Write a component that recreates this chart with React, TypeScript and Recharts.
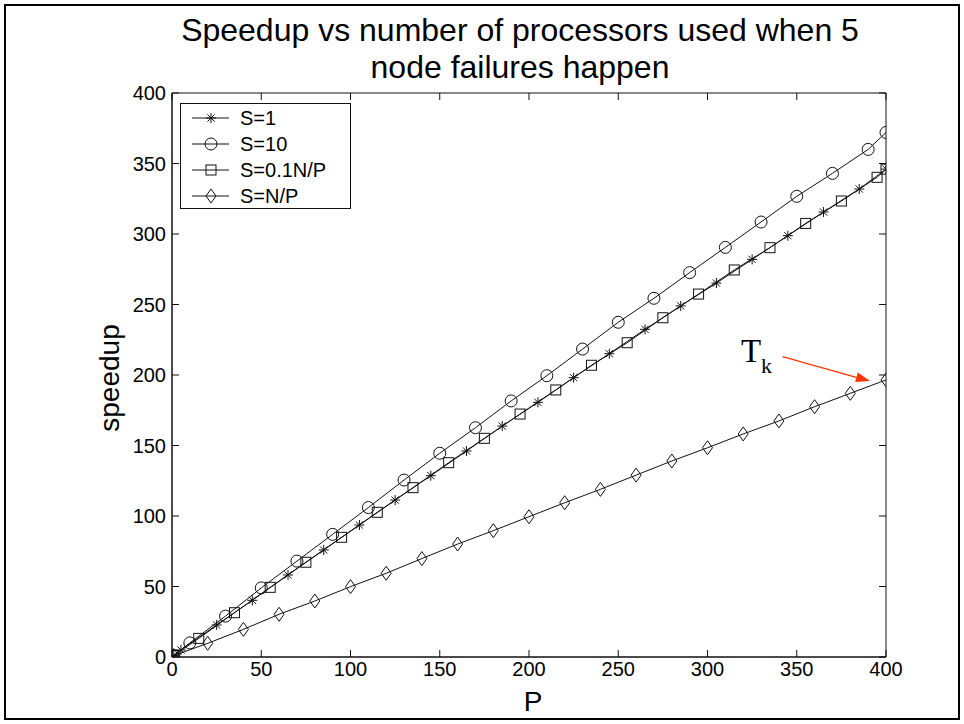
import React from 'react';
import { LineChart, Line, XAxis, YAxis, ReferenceLine, ReferenceDot, ReferenceArea } from 'recharts';

const P_TICKS = [0, 50, 100, 150, 200, 250, 300, 350, 400];
const SPEEDUP_TICKS = [0, 50, 100, 150, 200, 250, 300, 350, 400];

// S=1 (stars)
const S1_P = [1, 5, 25, 45, 65, 85, 105, 125, 145, 165, 185, 205, 225, 245, 265, 285, 305, 325, 345, 365, 385, 400];
const S1_SPEEDUP = [1, 5, 22.7, 40.2, 58.2, 75.9, 93.6, 111.3, 128.6, 146.1, 163.8, 180.6, 198.1, 215.1, 232.4, 249, 265.2, 282, 298.8, 315.6, 331.9, 346];

// S=10 (circles)
const S10_P = [1, 10, 30, 50, 70, 90, 110, 130, 150, 170, 190, 210, 230, 250, 270, 290, 310, 330, 350, 370, 390, 400];
const S10_SPEEDUP = [1, 10, 29, 49, 68, 87, 106, 125.5, 144.5, 162.6, 181.6, 199.5, 218.4, 237.4, 254.4, 272.6, 290.5, 308.5, 326.7, 343, 360, 372];

// S=0.1N/P (squares)
const S01_P = [1, 15, 35, 55, 75, 95, 115, 135, 155, 175, 195, 215, 235, 255, 275, 295, 315, 335, 355, 375, 395, 400];
const S01_SPEEDUP = [1, 13.2, 31.4, 49.4, 67.2, 84.9, 102.6, 120.1, 137.8, 155.1, 172.3, 189.4, 206.9, 222.9, 240.6, 257.4, 274.5, 290.3, 307.5, 323.4, 340.2, 346];

// S=N/P (diamonds)
const SNP_P = [1, 20, 40, 60, 80, 100, 120, 140, 160, 180, 200, 220, 240, 260, 280, 300, 320, 340, 360, 380, 400];
const SNP_SPEEDUP = [1, 9.7, 19.6, 30.3, 39.7, 49.9, 59.4, 69.8, 80.1, 89.6, 99.5, 109.4, 118.9, 129, 139, 148.4, 158.2, 167.4, 177.5, 187, 196.5];

const TK_LABEL = { p: 326, speedup: 214 };
const TK_ARROW = [
  { p: 342, speedup: 213 },
  { p: 391, speedup: 195.7 },
];

const zip = (ps: number[], vs: number[]) => ps.map((p, i) => ({ p, speedup: vs[i] }));

const SERIES = [
  { name: 'S=1', marker: 'star', data: zip(S1_P, S1_SPEEDUP) },
  { name: 'S=10', marker: 'circle', data: zip(S10_P, S10_SPEEDUP) },
  { name: 'S=0.1N/P', marker: 'square', data: zip(S01_P, S01_SPEEDUP) },
  { name: 'S=N/P', marker: 'diamond', data: zip(SNP_P, SNP_SPEEDUP) },
];

const FONT = '"Liberation Sans", Arial, Helvetica, sans-serif';
const INK = '#111';
const TICK_LEN = 7;

function Marker({ kind, cx, cy }: { kind: string; cx: number; cy: number }) {
  const common = { stroke: INK, strokeWidth: 1, fill: 'none' };
  if (kind === 'circle') return <circle cx={cx} cy={cy} r={6} {...common} />;
  if (kind === 'square') return <rect x={cx - 5} y={cy - 5} width={10} height={10} {...common} />;
  if (kind === 'diamond')
    return <polygon points={`${cx},${cy - 7} ${cx + 5},${cy} ${cx},${cy + 7} ${cx - 5},${cy}`} {...common} />;
  const s = 5;
  const d = 3.6;
  return (
    <g {...common}>
      <line x1={cx - s} y1={cy} x2={cx + s} y2={cy} />
      <line x1={cx} y1={cy - s} x2={cx} y2={cy + s} />
      <line x1={cx - d} y1={cy - d} x2={cx + d} y2={cy + d} />
      <line x1={cx - d} y1={cy + d} x2={cx + d} y2={cy - d} />
    </g>
  );
}

function LegendBox() {
  return (
    <div
      style={{
        position: 'absolute',
        left: 180,
        top: 103,
        width: 171,
        height: 106,
        border: `1px solid ${INK}`,
        background: '#fff',
        boxSizing: 'border-box',
      }}
    >
      <svg width={169} height={104} style={{ display: 'block' }}>
        {SERIES.map((s, i) => {
          const y = 14 + i * 26;
          return (
            <g key={s.name}>
              <line x1={11} y1={y} x2={48} y2={y} stroke={INK} strokeWidth={1} />
              <Marker kind={s.marker} cx={30} cy={y} />
              <text x={59} y={y} dominantBaseline="central" fontSize={20} fontFamily={FONT} fill="#000">
                {s.name}
              </text>
            </g>
          );
        })}
      </svg>
    </div>
  );
}

// inward tick marks at both ends of a full-height / full-width reference line
function VTicks(props: any) {
  const { x1, y1, x2, y2 } = props;
  const top = Math.min(y1, y2);
  const bottom = Math.max(y1, y2);
  return (
    <g stroke={INK} strokeWidth={1}>
      <line x1={x1} y1={bottom} x2={x2} y2={bottom - TICK_LEN} />
      <line x1={x1} y1={top} x2={x2} y2={top + TICK_LEN} />
    </g>
  );
}

function HTicks(props: any) {
  const { x1, y1, x2, y2 } = props;
  const left = Math.min(x1, x2);
  const right = Math.max(x1, x2);
  return (
    <g stroke={INK} strokeWidth={1}>
      <line x1={left} y1={y1} x2={left + TICK_LEN} y2={y2} />
      <line x1={right} y1={y1} x2={right - TICK_LEN} y2={y2} />
    </g>
  );
}

function TkArrow(props: any) {
  const { x1, y1, x2, y2 } = props;
  const a = Math.atan2(y2 - y1, x2 - x1);
  const len = 14;
  const hw = 5;
  const bx = x2 - len * Math.cos(a);
  const by = y2 - len * Math.sin(a);
  const pts = `${x2},${y2} ${bx + hw * Math.sin(a)},${by - hw * Math.cos(a)} ${bx - hw * Math.sin(a)},${by + hw * Math.cos(a)}`;
  return (
    <g>
      <line x1={x1} y1={y1} x2={bx} y2={by} stroke="#ff3300" strokeWidth={1.2} />
      <polygon points={pts} fill="#ff3300" />
    </g>
  );
}

function TkLabel(props: any) {
  const { cx, cy } = props;
  return (
    <text x={cx - 13} y={cy + 7} fontFamily='"Liberation Serif", "Times New Roman", serif' fill="#000">
      <tspan fontSize={33}>T</tspan>
      <tspan fontSize={22} dy={11}>k</tspan>
    </text>
  );
}

function YTitle(props: any) {
  const vb = props.viewBox || { y: 93, height: 564 };
  const cy = vb.y + vb.height / 2 + 3;
  return (
    <text x={119} y={cy} transform={`rotate(-90 119 ${cy})`} textAnchor="middle" fontSize={28} fontFamily={FONT} fill="#000">
      speedup
    </text>
  );
}

function XTitle(props: any) {
  const vb = props.viewBox || { x: 172, width: 714 };
  return (
    <text x={vb.x + vb.width / 2 + 4} y={711} textAnchor="middle" fontSize={28} fontFamily={FONT} fill="#000">
      P
    </text>
  );
}

export default function App() {
  const tickStyle = { fontSize: 20, fill: '#000', fontFamily: FONT };
  return (
    <div style={{ position: 'absolute', left: 0, top: 0, width: 964, height: 724, background: '#fff', overflow: 'hidden' }}>
      <div
        style={{
          position: 'absolute',
          left: 4,
          top: 4,
          width: 956,
          height: 716,
          border: '2px solid #000',
          boxSizing: 'border-box',
        }}
      />
      <div
        style={{
          position: 'absolute',
          left: 120,
          top: 12,
          width: 800,
          textAlign: 'center',
          fontFamily: FONT,
          fontSize: 32,
          lineHeight: '37px',
          color: '#000',
        }}
      >
        Speedup vs number of processors used when 5
        <br />
        node failures happen
      </div>
      <div style={{ position: 'absolute', left: 0, top: 0 }}>
        <LineChart width={964} height={724} margin={{ top: 93, right: 78, bottom: 0, left: 0 }}>
          <XAxis
            type="number"
            dataKey="p"
            domain={[0, 400]}
            ticks={P_TICKS}
            allowDataOverflow
            height={67}
            stroke={INK}
            tick={tickStyle}
            tickLine={false}
            tickSize={0}
            tickMargin={5}
            label={<XTitle />}
          />
          <YAxis
            type="number"
            dataKey="speedup"
            domain={[0, 400]}
            ticks={SPEEDUP_TICKS}
            allowDataOverflow
            width={172}
            stroke={INK}
            tick={tickStyle}
            tickLine={false}
            tickSize={0}
            tickMargin={6}
            label={<YTitle />}
          />
          <ReferenceArea x1={0} x2={400} y1={0} y2={400} fill="none" stroke={INK} strokeWidth={1} fillOpacity={0} />
          {P_TICKS.map((t) => (
            <ReferenceLine key={`px-${t}`} x={t} shape={<VTicks />} />
          ))}
          {SPEEDUP_TICKS.map((t) => (
            <ReferenceLine key={`sy-${t}`} y={t} shape={<HTicks />} />
          ))}
          {SERIES.map((s) => (
            <Line
              key={s.name}
              data={s.data}
              dataKey="speedup"
              name={s.name}
              type="linear"
              stroke={INK}
              strokeWidth={1}
              isAnimationActive={false}
              dot={(d: any) => <Marker key={`${s.name}-${d.index}`} kind={s.marker} cx={d.cx} cy={d.cy} />}
              activeDot={false}
            />
          ))}
          <ReferenceLine
            segment={[
              { x: TK_ARROW[0].p, y: TK_ARROW[0].speedup },
              { x: TK_ARROW[1].p, y: TK_ARROW[1].speedup },
            ]}
            shape={<TkArrow />}
            ifOverflow="visible"
          />
          <ReferenceDot x={TK_LABEL.p} y={TK_LABEL.speedup} r={1} shape={<TkLabel />} ifOverflow="visible" />
        </LineChart>
      </div>
      <LegendBox />
    </div>
  );
}
